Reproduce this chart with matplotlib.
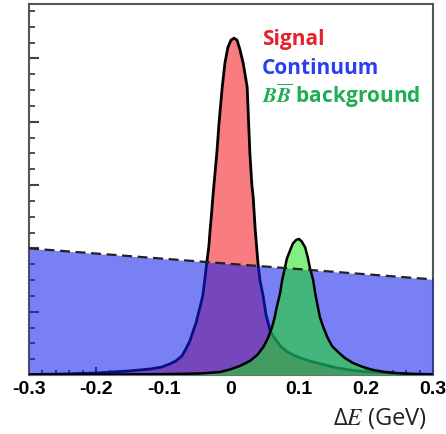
import matplotlib
matplotlib.use('Agg')
import matplotlib.pyplot as plt
from matplotlib.ticker import MultipleLocator

plt.rcParams['mathtext.fontset'] = 'stix'
plt.rcParams['axes.unicode_minus'] = False

# Delta E (GeV) and curve heights (arbitrary units, one major y tick = 1)
signal_x = [-0.300, -0.251, -0.200, -0.152, -0.120, -0.103, -0.091, -0.082, -0.073, -0.067,
            -0.061, -0.056, -0.052, -0.049, -0.046, -0.042, -0.039, -0.036, -0.033, -0.031,
            -0.029, -0.027, -0.024, -0.021, -0.018, -0.013, -0.009, -0.0045, 0.0, 0.0045,
            0.009, 0.013, 0.018, 0.021, 0.024, 0.026, 0.028, 0.031, 0.033, 0.036,
            0.040, 0.043, 0.048, 0.052, 0.058, 0.061, 0.067, 0.074, 0.083, 0.094,
            0.103, 0.117, 0.137, 0.155, 0.177, 0.196, 0.221, 0.247, 0.273, 0.300]
signal_y = [0.008, 0.016, 0.032, 0.063, 0.095, 0.126, 0.174, 0.221, 0.30, 0.41,
            0.54, 0.70, 0.82, 0.95, 1.07, 1.25, 1.50, 1.77, 2.02, 2.29,
            2.53, 2.80, 3.16, 3.51, 3.95, 4.55, 4.93, 5.18, 5.29, 5.32,
            5.29, 5.15, 4.93, 4.74, 4.55, 4.03, 3.51, 3.00, 2.80, 2.29,
            1.77, 1.50, 1.23, 0.95, 0.71, 0.64, 0.55, 0.45, 0.37, 0.31,
            0.27, 0.22, 0.166, 0.118, 0.079, 0.055, 0.040, 0.024, 0.016, 0.010]

bb_x = [-0.300, -0.195, -0.105, -0.046, -0.016, -0.0015, 0.013, 0.028, 0.039, 0.048,
        0.055, 0.061, 0.065, 0.068, 0.073, 0.076, 0.080, 0.083, 0.088, 0.092,
        0.097, 0.101, 0.105, 0.110, 0.114, 0.117, 0.122, 0.125, 0.129, 0.132,
        0.137, 0.143, 0.150, 0.159, 0.169, 0.181, 0.196, 0.211, 0.229, 0.244,
        0.261, 0.281, 0.300]
bb_y = [0.003, 0.006, 0.013, 0.024, 0.047, 0.087, 0.142, 0.221, 0.316, 0.442,
        0.585, 0.758, 0.916, 1.074, 1.295, 1.50, 1.690, 1.840, 1.975, 2.08,
        2.135, 2.148, 2.11, 2.02, 1.86, 1.70, 1.50, 1.295, 1.074, 0.916,
        0.758, 0.60, 0.458, 0.363, 0.269, 0.19, 0.126, 0.079, 0.047, 0.032,
        0.019, 0.009, 0.005]

cont_x = [-0.3, 0.3]
cont_y = [2.0, 1.51]

xticks = [-0.3, -0.2, -0.1, 0, 0.1, 0.2, 0.3]
xtick_labels = ['-0.3', '-0.2', '-0.1', '0', '0.1', '0.2', '0.3']

legend_labels = ['Signal', 'Continuum', r'$\boldsymbol{B}\overline{\boldsymbol{B}}$ background']
legend_colors = ['#e8212b', '#2b3ff0', '#1fae55']

fig = plt.figure(figsize=(4.46, 4.34), dpi=100)
ax = fig.add_axes([29 / 446, 59 / 434, 404 / 446, 371 / 434])

# signal peak (under the continuum)
ax.fill_between(signal_x, signal_y, 0, color='#f87c80', lw=0, zorder=1)
ax.plot(signal_x, signal_y, color='black', lw=2, zorder=1.5)

# continuum, semi transparent blue laid over the signal
ax.fill_between(cont_x, cont_y, 0, color=(14 / 255, 29 / 255, 237 / 255), alpha=0.56, lw=0, zorder=2)
ax.plot(cont_x, cont_y, color='#222222', lw=1.6, ls=(0, (4.5, 2.5)), zorder=4)

# BBbar peak on top
ax.fill_between(bb_x, bb_y, 0, color=(27 / 255, 227 / 255, 24 / 255), alpha=0.55, lw=0, zorder=3)
ax.plot(bb_x, bb_y, color='black', lw=1.8, zorder=3.5)

ax.set_xlim(-0.3, 0.3)
ax.set_ylim(0, 5.86)

ax.set_axisbelow(True)
for sp in ax.spines.values():
    sp.set_color('#555555')
    sp.set_linewidth(1.5)
    sp.set_zorder(0.6)

ax.set_xticks(xticks)
ax.set_xticklabels(xtick_labels, fontfamily='Liberation Sans', fontweight='bold', fontsize=14)
ax.xaxis.set_minor_locator(MultipleLocator(0.02))
ax.yaxis.set_major_locator(MultipleLocator(1))
ax.yaxis.set_minor_locator(MultipleLocator(0.25))
ax.set_yticklabels([])
ax.tick_params(axis='x', which='major', direction='in', length=6, width=1.4, color='#333333', pad=4)
ax.tick_params(axis='x', which='minor', direction='in', length=3.5, width=1.2, color='#333333')
ax.tick_params(axis='y', which='major', direction='in', length=7, width=1.5, color='#444444')
ax.tick_params(axis='y', which='minor', direction='in', length=4, width=1.3, color='#444444')

# coloured legend text
for i, (lab, col) in enumerate(zip(legend_labels, legend_colors)):
    ax.text(0.577, 0.889 - i * 0.078, lab, transform=ax.transAxes, color=col,
            fontfamily='Open Sans', fontweight='bold', fontsize=15, va='baseline', ha='left')

ax.text(0.985, -0.135, r'Δ$E$ (GeV)', transform=ax.transAxes, ha='right', va='baseline',
        fontfamily='Open Sans', fontsize=17, color='#222222')

fig.savefig('out.png', dpi=100)
